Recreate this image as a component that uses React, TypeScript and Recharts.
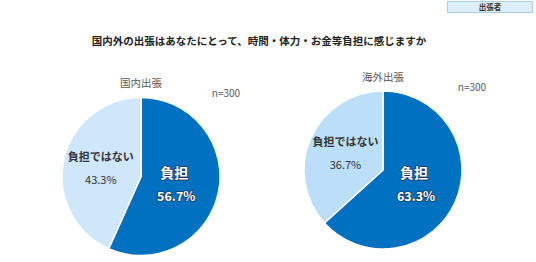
import { Cell, Pie, PieChart } from "recharts";

const segments = ["負担", "負担ではない"];
const domesticValues = [56.7, 43.3];
const overseasValues = [63.3, 36.7];
const chartTitles = ["国内出張", "海外出張"];
const sampleNote = "n=300";

const DARK = "#0070C0";
const LIGHT_DOMESTIC = "#CFE7FA";
const LIGHT_OVERSEAS = "#BBDFF8";
const FONT = '"Noto Sans CJK JP", "Noto Sans", sans-serif';

const RADIAN = Math.PI / 180;

const toData = (values: number[]) =>
	segments.map((name, i) => ({ name, value: values[i] }));

function SliceLabel(props: any) {
	const { cx, cy, midAngle, outerRadius, index, name, value } = props;
	const isMain = index === 0;
	const r = outerRadius * (isMain ? 0.43 : 0.52);
	const x = cx + r * Math.cos(-midAngle * RADIAN);
	const y = cy + r * Math.sin(-midAngle * RADIAN);
	if (isMain) {
		return (
			<g
				fontFamily={FONT}
				textAnchor="middle"
				fill="#fff"
				stroke="#203a5a"
				strokeWidth={1.6}
				strokeLinejoin="round"
				paintOrder="stroke"
				fontWeight="bold"
			>
				<text x={x} y={y - 12} dominantBaseline="central" fontSize={14}>
					{name}
				</text>
				<text x={x + 2} y={y + 12} dominantBaseline="central" fontSize={12.5}>
					{`${value.toFixed(1)}%`}
				</text>
			</g>
		);
	}
	return (
		<g fontFamily={FONT} textAnchor="middle" fill="#333">
			<text x={x} y={y - 12} dominantBaseline="central" fontSize={11} fontWeight="bold">
				{name}
			</text>
			<text x={x} y={y + 11} dominantBaseline="central" fontSize={11}>
				{`${value.toFixed(1)}%`}
			</text>
		</g>
	);
}

const textStyle = (x: number, y: number, extra: any = {}) => ({
	position: "absolute" as const,
	left: x,
	top: y,
	transform: "translate(-50%, -50%)",
	whiteSpace: "nowrap" as const,
	fontFamily: FONT,
	lineHeight: 1,
	...extra,
});

export default function App() {
	const domestic = toData(domesticValues);
	const overseas = toData(overseasValues);

	return (
		<div
			style={{
				position: "absolute",
				left: 0,
				top: 0,
				width: 536,
				height: 262,
				background: "#fff",
				overflow: "hidden",
			}}
		>
			<div
				style={{
					position: "absolute",
					left: 447,
					top: 1,
					width: 86,
					height: 12,
					background: "#DDEEFB",
					border: "1px solid #A9CDEB",
					boxSizing: "border-box",
					fontFamily: FONT,
					fontSize: 7.5,
					fontWeight: "bold",
					color: "#333",
					textAlign: "center",
					lineHeight: "10px",
				}}
			>
				出張者
			</div>
			<div style={textStyle(259, 41, { fontSize: 10.5, fontWeight: "bold", color: "#222" })}>
				国内外の出張はあなたにとって、時間・体力・お金等負担に感じますか
			</div>
			<div style={textStyle(141, 83, { fontSize: 10.5, color: "#595959" })}>{chartTitles[0]}</div>
			<div style={textStyle(226, 93, { fontSize: 10, color: "#595959" })}>{sampleNote}</div>
			<div style={textStyle(383, 77, { fontSize: 10.5, color: "#595959" })}>{chartTitles[1]}</div>
			<div style={textStyle(472, 86.5, { fontSize: 10, color: "#595959" })}>{sampleNote}</div>

			<div style={{ position: "absolute", left: 0, top: 0 }}>
				<PieChart width={536} height={262} margin={{ top: 0, right: 0, bottom: 0, left: 0 }}>
					<Pie
						data={domestic}
						dataKey="value"
						nameKey="name"
						cx={141}
						cy={176.5}
						outerRadius={79}
						startAngle={90}
						endAngle={-270}
						stroke="#fff"
						strokeWidth={1.5}
						labelLine={false}
						label={SliceLabel}
						isAnimationActive={false}
					>
						<Cell fill={DARK} />
						<Cell fill={LIGHT_DOMESTIC} />
					</Pie>
					<Pie
						data={overseas}
						dataKey="value"
						nameKey="name"
						cx={383}
						cy={170}
						outerRadius={79}
						startAngle={90}
						endAngle={-270}
						stroke="#fff"
						strokeWidth={1.5}
						labelLine={false}
						label={SliceLabel}
						isAnimationActive={false}
					>
						<Cell fill={DARK} />
						<Cell fill={LIGHT_OVERSEAS} />
					</Pie>
				</PieChart>
			</div>
		</div>
	);
}
